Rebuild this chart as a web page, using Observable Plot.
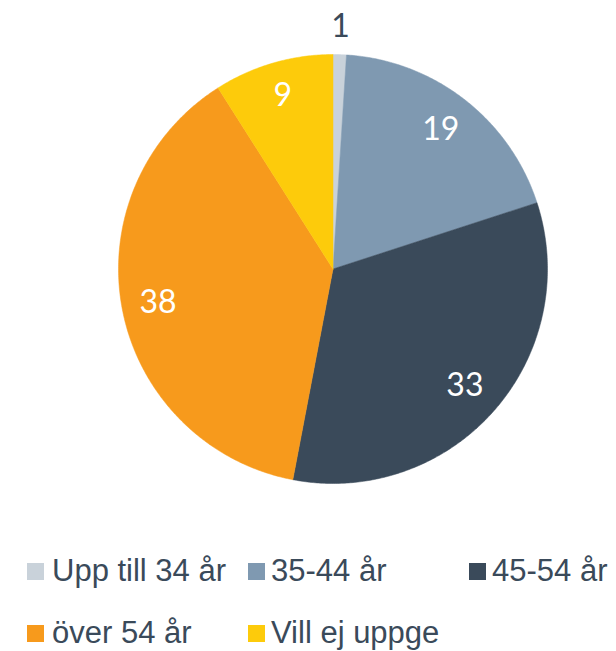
<!DOCTYPE html>
<html>
<head>
<meta charset="utf-8">
<script src="https://cdn.jsdelivr.net/npm/d3@7"></script>
<script src="https://cdn.jsdelivr.net/npm/@observablehq/plot@0.6"></script>
<style>
  html, body { margin: 0; padding: 0; background: #fff; }
  #wrap { position: relative; width: 616px; height: 651px; overflow: hidden; }
  #chart { position: absolute; left: 0; top: 0; }
  .item { position: absolute; font-family: "Liberation Sans", Arial, sans-serif; font-size: 31px; color: #3a4a5a; white-space: nowrap; line-height: 1; }
  .sw { position: absolute; width: 17px; height: 17px; }
</style>
</head>
<body>
<div id="wrap"><div id="chart"></div></div>
<script>
const categories = ["Upp till 34 år", "35-44 år", "45-54 år", "över 54 år", "Vill ej uppge"];
const values = [1, 19, 33, 38, 9];
const colors = ["#c9d2da", "#7f99b1", "#3a4a5a", "#f79a1c", "#fdcb0b"];
const labelColors = ["#3a4a5a", "#ffffff", "#ffffff", "#ffffff", "#ffffff"];
const labelRadius = [1.13, 0.82, 0.82, 0.83, 0.84];

const W = 616, H = 500, cx = 332.5, cy = 268.5, R = 214.5;
const total = d3.sum(values);

// slice polygons derived from the values
const polys = [];
const labels = [];
let start = 0;
categories.forEach((c, i) => {
  const a0 = start / total * 2 * Math.PI;
  const a1 = (start + values[i]) / total * 2 * Math.PI;
  polys.push({key: c, x: 0, y: 0});
  const n = Math.max(4, Math.ceil((a1 - a0) / (Math.PI / 360)));
  for (let k = 0; k <= n; k++) {
    const a = a0 + (a1 - a0) * k / n;
    polys.push({key: c, x: Math.sin(a), y: Math.cos(a)});
  }
  polys.push({key: c, x: 0, y: 0});
  const am = (a0 + a1) / 2;
  labels.push({key: c, v: values[i], x: labelRadius[i] * Math.sin(am), y: labelRadius[i] * Math.cos(am), color: labelColors[i]});
  start += values[i];
});

const plot = Plot.plot({
  width: W, height: H,
  margin: 0,
  x: {domain: [-cx / R, (W - cx) / R], range: [0, W], axis: null},
  y: {domain: [-(H - cy) / R, cy / R], range: [H, 0], axis: null},
  color: {domain: categories, range: colors},
  style: {background: "transparent"},
  marks: [
    Plot.line(polys, {x: "x", y: "y", z: "key", fill: "key", stroke: "key", strokeWidth: 0.5, curve: "linear"}),
    Plot.text(labels, {x: "x", y: "y", text: d => String(d.v), fill: d => d.color, fontSize: 32, fontFamily: "Lato, 'Open Sans', sans-serif", fontWeight: 400, textAnchor: "middle"})
  ]
});
document.getElementById("chart").appendChild(plot);

// legend
const wrap = document.getElementById("wrap");
const legendPos = [
  {sx: 27, sy: 563, tx: 52, ty: 555},
  {sx: 248, sy: 563, tx: 271, ty: 555},
  {sx: 469, sy: 563, tx: 492, ty: 555},
  {sx: 27, sy: 625, tx: 52, ty: 617},
  {sx: 248, sy: 625, tx: 271, ty: 617}
];
categories.forEach((c, i) => {
  const p = legendPos[i];
  const sw = document.createElement("div");
  sw.className = "sw";
  sw.style.left = p.sx + "px";
  sw.style.top = p.sy + "px";
  sw.style.background = colors[i];
  wrap.appendChild(sw);
  const t = document.createElement("div");
  t.className = "item";
  t.textContent = c;
  t.style.left = p.tx + "px";
  t.style.top = p.ty + "px";
  wrap.appendChild(t);
});
</script>
</body>
</html>
